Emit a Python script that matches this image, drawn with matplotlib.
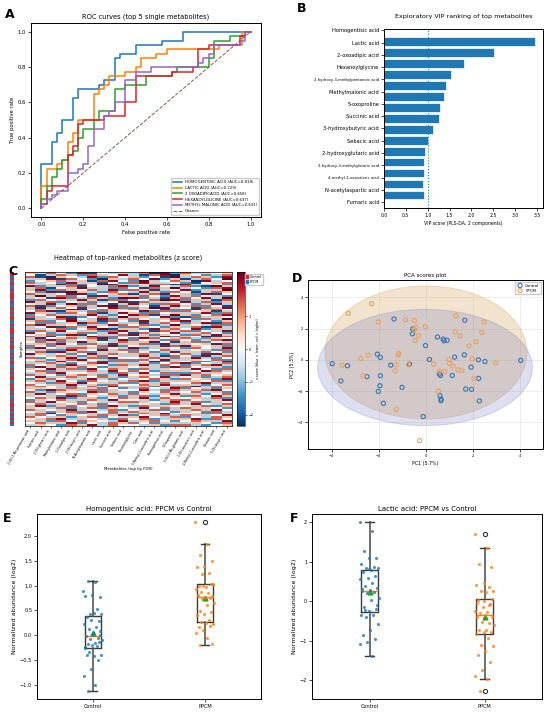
import numpy as np
import matplotlib
matplotlib.use("Agg")
import matplotlib.pyplot as plt
from matplotlib.patches import Ellipse, Patch
from matplotlib.colors import ListedColormap
from matplotlib.lines import Line2D

plt.rcParams['font.family'] = ['DejaVu Sans']

# ---------- A: ROC curves ----------
roc_names = ["HOMOGENTISIC ACID", "LACTIC ACID", "2 OXOADIPICACID",
             "HEXANOYLGLICINE", "METHYL MALONIC ACID"]
roc_auc = [0.818, 0.729, 0.658, 0.637, 0.631]
roc_fpr = [
    [0, 0, 0, 0.05, 0.075, 0.1, 0.15, 0.175, 0.275, 0.3, 0.35, 0.375, 0.45, 0.575, 0.675, 1.0],
    [0, 0, 0.025, 0.075, 0.1, 0.125, 0.15, 0.175, 0.25, 0.275, 0.3, 0.325, 0.4, 0.45, 0.475, 0.55, 0.6, 0.85, 0.96, 1.0],
    [0, 0, 0.025, 0.05, 0.075, 0.1, 0.125, 0.15, 0.175, 0.2, 0.25, 0.275, 0.35, 0.4, 0.5, 0.625, 0.65, 0.8, 0.825, 0.9, 0.975, 1.0],
    [0, 0, 0.025, 0.05, 0.125, 0.15, 0.175, 0.2, 0.3, 0.4, 0.45, 0.625, 0.725, 0.75, 0.8, 0.95, 0.975, 1.0],
    [0, 0, 0.025, 0.05, 0.075, 0.125, 0.175, 0.2, 0.225, 0.25, 0.3, 0.325, 0.35, 0.4, 0.45, 0.525, 0.75, 0.775, 0.8, 0.825, 0.95, 0.975, 1.0],
]
roc_tpr = [
    [0, 0.125, 0.25, 0.375, 0.425, 0.5, 0.625, 0.675, 0.7, 0.725, 0.85, 0.875, 0.925, 0.95, 1.0, 1.0],
    [0, 0.125, 0.225, 0.25, 0.275, 0.375, 0.425, 0.5, 0.65, 0.675, 0.7, 0.75, 0.775, 0.8, 0.85, 0.875, 0.9, 0.925, 1.0, 1.0],
    [0, 0.05, 0.125, 0.175, 0.225, 0.275, 0.3, 0.325, 0.4, 0.45, 0.5, 0.55, 0.675, 0.7, 0.75, 0.775, 0.8, 0.85, 0.95, 0.975, 1.0, 1.0],
    [0, 0.025, 0.1, 0.125, 0.3, 0.35, 0.475, 0.5, 0.525, 0.6, 0.75, 0.775, 0.8, 0.9, 0.925, 0.975, 1.0, 1.0],
    [0, 0.025, 0.05, 0.075, 0.1, 0.2, 0.225, 0.25, 0.35, 0.45, 0.525, 0.55, 0.6, 0.725, 0.775, 0.8, 0.825, 0.85, 0.875, 0.925, 0.95, 1.0, 1.0],
]

# ---------- B: VIP ----------
vip_names = ["Homogentisic acid", "Lactic acid", "2-oxoadipic acid", "Hexanoylglycine",
             "2-hydroxy-3-methylpentanoic acid", "Methylmalonic acid", "5-oxoproline",
             "Succinic acid", "3-hydroxybutyric acid", "Sebacic acid", "2-hydroxyglutaric acid",
             "3-hydroxy-3-methylglutaric acid", "4-methyl-2-oxovaleric acid",
             "N-acetylaspartic acid", "Fumaric acid"]
vip_scores = [3.45, 2.51, 1.83, 1.53, 1.42, 1.38, 1.28, 1.26, 1.13, 1.01, 0.95, 0.92, 0.91, 0.90, 0.91]

# ---------- C: heatmap ----------
heat_cols = ["2-OH-3-Me-pentanoic acid", "Fumaric acid", "2-OH-glutaric acid", "Methylmalonic acid",
             "2-Oxoadipic acid", "2-OH-butyric acid", "N-Acetylaspartic acid", "Lactic acid",
             "Succinic acid", "Sebacic acid", "Hexanoylglycine", "Citric acid",
             "3-Methyl-2-oxovaleric acid", "Homogentisic acid", "5-Oxoproline",
             "3-OH-3-Me-glutaric acid", "2-OH-isovaleric acid", "4-Methyl-2-oxovaleric acid",
             "Glutaric acid", "3-OH-butyric acid"]
heat_rows = [
    "53642 71435 36082 63545", "41365 26547 31670 54236", "61054 37264 52418 36527",
    "35716 42053 64725 13648", "24563 51674 28346 50734", "63427 35142 67534 21456",
    "45372 64815 34261 75342", "72536 14367 25743 62185", "36145 73526 41658 34267",
    "57263 46372 65134 72538", "42718 53264 37526 41365", "65347 72456 13674 52714",
    "38562 41735 56427 36452", "54176 36528 72315 64738", "26453 75162 44687 25316",
    "73624 52347 16534 73625", "45738 26415 73266 42573", "61245 63782 54137 56241",
    "37564 15476 25873 41657", "52437 74253 63416 27364", "46715 32654 47262 64513",
    "75326 46137 52645 35726", "24653 57324 76138 52467", "63471 24658 35472 16354",
    "15367 43725 64357 42638", "56248 35164 27546 73425", "42635 76243 51364 25716",
    "67354 23576 46238 54362", "34716 57432 65425 36175", "53462 46815 32756 47253",
    "26574 35267 54163 62437", "74235 62374 16547 35642", "45627 14536 73254 26375",
    "63145 57263 45372 54716", "37456 36724 27645 63254", "52763 45137 64326 42567",
    "46325 73456 35741 56243", "35674 26315 56273 34576", "64253 54672 43516 75432",
    "27436 65243 72354 26457", "53627 34756 25463 54326", "46175 62534 64237 35642",
    "75342 47365 36524 63175", "34565 25643 57316 42736", "62457 36274 43652 57324",
    "45236 74526 26475 35462", "56374 53162 64723 46257", "33652 46735 35246 72436",
    "64527 35426 57364 25673", "27365 64253 43527 64352", "54736 27465 26354 37426",
    "46253 56374 64235 54763", "35674 43526 37462 26354", "63425 65237 45326 73645",
    "47356 34652 56473 45236", "25643 57324 34652 64527", "56374 26453 67235 35462",
    "43265 74536 25364 46735", "64537 35264 46573 53246", "36452 46375 53246 27564",
    "55436 53642 36457 64325", "42765 36254 47326 35674", "63254 47635 25463 46352",
    "37546 25463 64357 53246", "54327 64352 36245 26475", "46572 35246 57364 45362",
    "25463 56374 43256 64537", "63745 24536 65437 36254", "46354 63245 34526 57436",
    "57236 45673 26354 43625", "34562 36254 57463 65342", "65437 54362 43625 36574",
    "43256 27465 65342 54263", "56743 65324 36574 43625", "36425 43657 24563 65347",
    "64352 56243 57436 24365", "45673 34526 46235 57264", "53264 65437 35642 46537",
    "46537 24365 64253 35426", "35426 57364 43526 63245",
]
heat_groups = "CCPCP CCPPC PCCCP CPPCC PCPCC PPCPC CCPPC PCPCC PPCPC PCCPP CPCPC CPPCP CCPCP PCPCC PCPPC PCPCP"

# ---------- D: PCA ----------
pca_ctrl_x = [-3.97, -3.60, -3.32, -2.49, -2.05, -1.92, -1.92, -1.94, -2.01, -1.79, -1.34, -1.48,
              -1.00, -0.68, -0.54, -0.56, -0.10, 0.00, 0.17, 0.51, 0.59, 0.64, 0.62, 0.66, 0.66,
              0.75, 0.79, 0.92, 1.14, 1.24, 1.67, 1.65, 1.71, 1.94, 1.96, 2.25, 2.26, 2.29, 2.53, 4.05]
pca_ctrl_y = [-0.25, -1.35, -0.38, -1.08, 0.36, 0.15, -1.02, -1.66, -2.02, -2.78, 2.61, -0.34,
              -1.76, -0.28, 1.97, 1.66, -3.63, 0.91, 0.02, 1.46, -0.91, -1.00, -2.29, -2.51, -2.61,
              1.32, 1.21, 1.25, -1.00, 0.17, 2.53, 0.32, -1.87, -0.47, -1.89, 0.00, -1.19, -2.63, -0.11, -0.04]
pca_ppcm_x = [-3.29, -2.29, -2.01, -0.85, -0.47, -0.41, -0.47, -0.30, -0.44, -0.01, -2.75, -2.44,
              -3.55, -2.66, -1.14, -1.16, -1.24, -1.29, -0.72, 0.35, 0.59, 0.82, 1.00, 1.02, 1.17,
              1.38, 1.54, 1.30, 1.26, 1.47, 1.85, 2.15, 1.99, 2.06, 2.40, 2.49, 2.99, 0.55, -1.24, -0.25]
pca_ppcm_y = [2.97, 3.59, 2.42, 2.55, 2.51, 2.08, 1.91, 1.55, 1.23, 2.12, 0.08, 0.30,
              -0.34, -1.02, 0.40, 0.30, -0.32, -0.70, -0.32, -0.28, -0.74, -0.76, 0.02, -0.23, -0.40,
              -0.64, -0.70, 2.82, 1.78, 1.53, 0.89, 1.15, 0.06, -1.19, 1.74, 2.42, -0.19, -2.00, -3.18, -5.16]
# 95% ellipses: centre x, centre y, width, height
ell_ppcm = (0.02, 0.47, 8.6, 8.5)
ell_ctrl = (-0.02, -0.49, 9.14, 7.43)

# ---------- E / F: box plots ----------
hga_ctrl = [0.89, 1.08, 1.09, 0.77, 0.81, 0.80, 0.52, 0.42, 0.43, 0.45, 0.37, 0.28, 0.30, 0.22,
            0.16, 0.13, 0.09, 0.05, -0.01, -0.05, -0.07, -0.09, -0.16, -0.17, -0.13, -0.20, -0.26,
            -0.22, -0.33, -0.40, -0.41, -0.40, -0.50, -0.67, -0.82, -1.00, -1.11, 0.00, 0.02, -0.24]
hga_ppcm = [2.27, 1.83, 1.62, 1.50, 1.40, 1.37, 1.25, 1.24, 1.03, 0.97, 1.00, 1.03, 1.00, 0.94,
            0.86, 0.88, 0.80, 0.78, 0.81, 0.75, 0.73, 0.66, 0.61, 0.49, 0.46, 0.42, 0.41, 0.31,
            0.26, 0.23, 0.25, 0.17, 0.19, 0.10, 0.05, -0.05, -0.20, -0.17]
lac_ctrl = [1.99, 1.77, 1.27, 1.08, 1.08, 0.93, 0.87, 0.85, 0.85, 0.78, 0.73, 0.63, 0.59, 0.57,
            0.47, 0.38, 0.32, 0.28, 0.25, 0.23, 0.20, 0.08, 0.04, -0.14, -0.19, -0.24, -0.35,
            -0.35, -0.41, -0.57, -0.73, -0.86, -0.95, -1.03, -1.07, -1.38, -0.22, -0.10, 0.82, 0.30]
lac_ppcm = [1.69, 1.35, 0.95, 0.87, 0.46, 0.41, 0.35, 0.25, 0.25, 0.22, 0.03, -0.08, -0.14,
            -0.24, -0.27, -0.31, -0.41, -0.35, -0.40, -0.54, -0.52, -0.59, -0.72, -0.73, -0.78,
            -0.78, -0.83, -0.93, -1.11, -1.13, -1.25, -1.35, -1.54, -1.74, -1.89, -1.97, -2.26,
            0.05, 0.00, -0.05, -0.10]
groups = ["Control", "PPCM"]

W, H = 550, 715
fig = plt.figure(figsize=(W / 100, H / 100), dpi=100)


def fax(l, t, r, b):
    # axes from pixel box (left, top, right, bottom)
    return fig.add_axes([l / W, 1 - b / H, (r - l) / W, (b - t) / H])


def small_ticks(ax, size):
    ax.tick_params(labelsize=size, length=2, width=0.5, pad=1.5)
    for s in ax.spines.values():
        s.set_linewidth(0.7)


# A
ax = fax(31, 23, 261, 217)
for i in range(5):
    ax.plot(roc_fpr[i], roc_tpr[i], drawstyle='steps-post', lw=1.1, color='C%d' % i,
            label="%s (AUC=%.3f)" % (roc_names[i], roc_auc[i]))
ax.plot([0, 1], [0, 1], ls='--', lw=0.7, color='C5', label='Chance')
ax.set_title("ROC curves (top 5 single metabolites)", fontsize=4.8, pad=3)
ax.set_xlabel("False positive rate", fontsize=3.8, labelpad=2)
ax.set_ylabel("True positive rate", fontsize=3.8, labelpad=2)
small_ticks(ax, 3.8)
ax.legend(loc='lower right', fontsize=2.8, handlelength=2.2, borderpad=0.5, labelspacing=0.45,
          framealpha=1)

# B
ax = fax(384, 29, 543, 208)
pos = np.arange(len(vip_scores))
ax.barh(pos, vip_scores, height=0.8, color='C0', edgecolor='white', linewidth=0.5)
ax.set_ylim(len(vip_scores) + 0.18, -1.12)
ax.set_xlim(0, 3.64)
ax.axvline(1.0, color='C0', ls=':', lw=0.8)
ax.set_yticks(np.linspace(-1.0, 14.64, len(vip_names)))
ax.set_yticklabels(vip_names)
for t, n in zip(ax.get_yticklabels(), vip_names):
    t.set_fontsize(2.7 if len(n) > 24 else 3.7)
ax.set_xticks([0, 0.5, 1, 1.5, 2, 2.5, 3, 3.5])
ax.tick_params(axis='x', labelsize=3.3)
ax.tick_params(length=2, width=0.5, pad=1.5)
for s in ax.spines.values():
    s.set_linewidth(0.7)
ax.set_title("Exploratory VIP ranking of top metabolites", fontsize=4.6, pad=8)
ax.set_xlabel("VIP score (PLS-DA, 2 components)", fontsize=3.3, labelpad=2)

# C
mat = np.array([[int(c) for c in r.replace(' ', '')] for r in heat_rows], dtype=float)
z = (mat - 4) * 0.7
grp = np.array([[0 if c == 'C' else 1] for c in heat_groups.replace(' ', '')])
ax = fax(25, 272, 232, 426)
im = ax.imshow(z, aspect='auto', cmap='RdBu_r', vmin=-2.35, vmax=2.35, interpolation='nearest')
ax.set_yticks([])
ax.set_xticks(np.arange(len(heat_cols)))
ax.set_xticklabels(heat_cols, rotation=60, ha='right', fontsize=2.2)
ax.tick_params(length=1.5, width=0.4, pad=1)
ax.set_ylabel("Samples", fontsize=2.8, labelpad=1)
ax.set_xlabel("Metabolites (top by FDR)", fontsize=2.8, labelpad=1)
ax.set_title("Heatmap of top-ranked metabolites (z score)", fontsize=4.7, pad=9)
for s in ax.spines.values():
    s.set_linewidth(0.5)
sax = fax(10, 272, 14, 426)
sax.imshow(grp, aspect='auto', cmap=ListedColormap(['#d62728', '#1f77b4']), interpolation='nearest')
sax.set_xticks([])
sax.set_yticks([])
for s in sax.spines.values():
    s.set_visible(False)
cax = fax(237, 272, 245, 426)
cb = fig.colorbar(im, cax=cax)
cb.set_ticks([-2, -1, 0, 1, 2])
cb.ax.tick_params(labelsize=2.4, length=1.5, width=0.4, pad=1)
cb.outline.set_linewidth(0.4)
cb.set_label("z-score (blue = lower, red = higher)", fontsize=2.4, labelpad=2)
fig.legend(handles=[Patch(color='#d62728', label='Control'), Patch(color='#1f77b4', label='PPCM')],
           loc='upper left', bbox_to_anchor=(243 / W, 1 - 272 / H), fontsize=2.4,
           handlelength=0.8, handleheight=0.8, borderpad=0.3, labelspacing=0.3,
           handletextpad=0.4, framealpha=1)

# D
ax = fax(308, 280, 543, 449)
for (cx, cy, w, h), col, a in [(ell_ppcm, '#d8b070', 0.35), (ell_ctrl, '#7b7fc0', 0.25)]:
    ax.add_patch(Ellipse((cx, cy), w, h, facecolor=col, edgecolor=col, alpha=a, lw=0.8, zorder=1))
ax.scatter(pca_ctrl_x, pca_ctrl_y, s=9, facecolors='none', edgecolors='#3a75b0', linewidths=0.8,
           zorder=3, label='Control')
ax.scatter(pca_ppcm_x, pca_ppcm_y, s=9, facecolors='none', edgecolors='#e8a060', linewidths=0.8,
           zorder=3, label='PPCM')
ax.set_xlim(-5, 5)
ax.set_ylim(-5.7, 5.1)
ax.set_xticks([-4, -2, 0, 2, 4])
ax.set_yticks([-4, -2, 0, 2, 4])
ax.grid(True, color='#e6e6e6', lw=0.5, zorder=0)
ax.set_axisbelow(True)
small_ticks(ax, 2.6)
ax.set_title("PCA scores plot", fontsize=4.0, pad=2)
ax.set_xlabel("PC1 (5.7%)", fontsize=3.4, labelpad=2)
ax.set_ylabel("PC2 (5.3%)", fontsize=3.4, labelpad=2)
ax.legend(loc='upper right', fontsize=2.8, handletextpad=0.3, borderpad=0.4, labelspacing=0.3,
          framealpha=1)


# E, F
def box_panel(ax, ctrl, ppcm, title):
    ax.boxplot([ctrl, ppcm], positions=[1, 2], widths=0.15, showmeans=True,
               boxprops=dict(color='#3a3a3a', lw=1.0),
               whiskerprops=dict(color='#555555', lw=1.2),
               capprops=dict(color='#3a3a3a', lw=1.0),
               medianprops=dict(color='C1', lw=1.0),
               meanprops=dict(marker='^', markerfacecolor='#2ca02c', markeredgecolor='#2ca02c',
                              markersize=3.5),
               flierprops=dict(marker='o', markerfacecolor='none', markeredgecolor='#333333',
                               markersize=3, markeredgewidth=0.8))
    for k, vals in enumerate([ctrl, ppcm]):
        n = len(vals)
        jit = ((np.arange(n) * 0.618034) % 1 - 0.5) * 0.17
        ax.scatter(k + 1 + jit, vals, s=5, color='C%d' % k, alpha=0.8, lw=0, zorder=3)
    ax.set_xticks([1, 2])
    ax.set_xticklabels(groups)
    ax.set_xlim(0.5, 2.5)
    small_ticks(ax, 3.6)
    ax.set_title(title, fontsize=5.0, pad=2)
    ax.set_ylabel("Normalized abundance (log2)", fontsize=4.6, labelpad=2)


ax = fax(37, 514, 261, 699)
box_panel(ax, hga_ctrl, hga_ppcm, "Homogentisic acid: PPCM vs Control")
ax.set_yticks([-1.0, -0.5, 0.0, 0.5, 1.0, 1.5, 2.0])
ax = fax(312, 514, 542, 699)
box_panel(ax, lac_ctrl, lac_ppcm, "Lactic acid: PPCM vs Control")
ax.set_yticks([-2, -1, 0, 1, 2])

# panel letters
for letter, x, y in [("A", 5, 14), ("B", 297, 9), ("C", 8, 271), ("D", 292, 278),
                     ("E", 3, 518), ("F", 290, 518)]:
    fig.text(x / W, 1 - y / H, letter, fontsize=9, fontweight='bold', va='center', ha='left')

fig.savefig("out.png", dpi=100)
